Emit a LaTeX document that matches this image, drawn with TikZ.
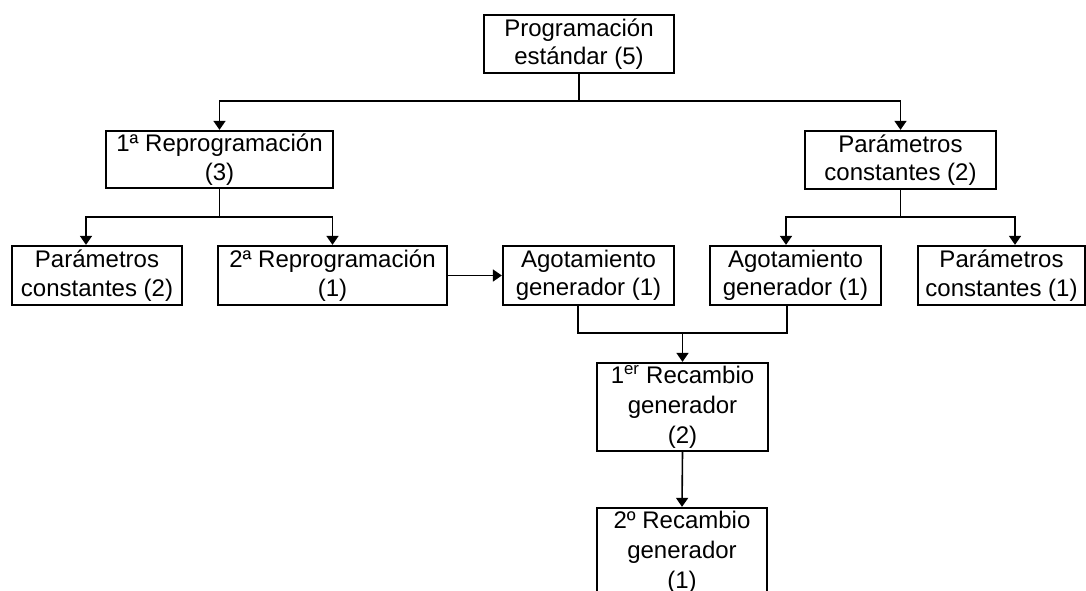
\documentclass[tikz,border=0pt]{standalone}
\usepackage{fontspec}
\setmainfont{Liberation Sans}
\usetikzlibrary{arrows.meta}
\newcommand{\boxfont}{\fontsize{24}{28.5}\selectfont}
\newcommand{\tallfont}{\fontsize{24}{30}\selectfont}
\tikzset{
  box/.style={draw, line width=2.3pt, inner sep=0pt, align=center, font=\boxfont},
  tallbox/.style={box, font=\tallfont},
  conn/.style={line width=1.6pt},
  arr/.style={line width=1.6pt, -{Triangle[length=9pt,width=12pt]}}
}
\begin{document}
\begin{tikzpicture}[x=1pt,y=-1pt]
\useasboundingbox (0,0) rectangle (1086,590);
\clip (0,0) rectangle (1086,590);
% nodes
\node[box, minimum width=190pt, minimum height=58pt] (top) at (579,44) {Programación\\estándar (5)};
\node[box, minimum width=227pt, minimum height=57pt] (r1) at (219.5,159.5) {1ª Reprogramación\\(3)};
\node[box, minimum width=191pt, minimum height=58pt] (pc2r) at (900.5,160) {Parámetros\\constantes (2)};
\node[box, minimum width=170pt, minimum height=59pt] (pc2l) at (97,275.5) {Parámetros\\constantes (2)};
\node[box, minimum width=229pt, minimum height=59pt] (r2) at (332.5,275.5) {2ª Reprogramación\\(1)};
\node[box, minimum width=171pt, minimum height=59pt] (ag1) at (588.5,275.5) {Agotamiento\\generador (1)};
\node[box, minimum width=171pt, minimum height=59pt] (ag2) at (795.5,275.5) {Agotamiento\\generador (1)};
\node[box, minimum width=167pt, minimum height=59pt] (pc1) at (1001.5,275.5) {Parámetros\\constantes (1)};
\node[tallbox, minimum width=171pt, minimum height=88pt] (rc1) at (682.5,407) {1\textsuperscript{er} Recambio\\generador\\(2)};
\node[tallbox, minimum width=170pt, minimum height=88pt] (rc2) at (682,552) {2º Recambio\\generador\\(1)};
% junction coordinates
\coordinate (j1) at (579,101);
\coordinate (j2) at (219.5,217);
\coordinate (a2) at (86,217);
\coordinate (j3) at (900.5,217);
\coordinate (a3) at (786,217);
\coordinate (b3) at (1015,217);
\coordinate (m1) at (578,333);
\coordinate (m2) at (787,333);
\coordinate (m) at (682.5,333);
% connectors
\draw[conn] (top.south) -- (j1);
\draw[arr] (j1) -| (r1.north);
\draw[arr] (j1) -| (pc2r.north);
\draw[conn] (r1.south) -- (j2);
\draw[arr] (j2) -- (a2) -- (a2 |- pc2l.north);
\draw[arr] (j2) -| (r2.north);
\draw[conn] (pc2r.south) -- (j3);
\draw[arr] (j3) -- (a3) -- (a3 |- ag2.north);
\draw[arr] (j3) -- (b3) -- (b3 |- pc1.north);
\draw[arr] (r2.east) -- (ag1.west);
\draw[conn] (m1 |- ag1.south) -- (m1) -- (m2) -- (m2 |- ag2.south);
\draw[arr] (m) -- (rc1.north);
\draw[arr] (rc1.south) -- (rc2.north);
\end{tikzpicture}
\end{document}
